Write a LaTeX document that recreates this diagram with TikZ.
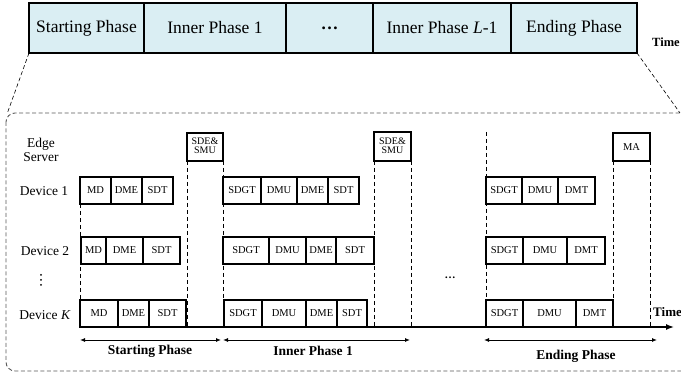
\documentclass[tikz,border=0pt]{standalone}
\usepackage{fontspec}
\setmainfont{Liberation Serif}
\usetikzlibrary{arrows.meta}
\definecolor{barfill}{RGB}{218,238,243}
\tikzset{
  cell/.style={draw=black,line width=1.3pt,fill=white,inner sep=0pt,outer sep=0pt,font=\fontsize{10.5}{11}\selectfont},
  phasecell/.style={draw=black,line width=1.8pt,fill=barfill,inner sep=0pt,outer sep=0pt,font=\fontsize{17.5}{19}\selectfont},
  vdash/.style={black,line width=0.8pt,dash pattern=on 4pt off 3pt},
  zoomdash/.style={black,line width=0.6pt,dash pattern=on 4pt off 2.5pt},
  lbl/.style={font=\fontsize{13.5}{15}\selectfont,align=center,inner sep=0pt},
  plbl/.style={font=\bfseries\fontsize{13.5}{15}\selectfont,inner sep=0pt},
  span/.style={line width=0.9pt,{Latex[length=5pt,width=4pt]}-{Latex[length=5pt,width=4pt]}}
}
\newcommand\cbox[6]{\node[cell,minimum width={(#3-#2)*1pt},minimum height={(#5-#4)*1pt}] (#1) at ({(#2+#3)/2},{(#4+#5)/2}) {#6};}
\newcommand\pbox[4]{\node[phasecell,minimum width={(#3-#2)*1pt},minimum height=50pt] (#1) at ({(#2+#3)/2},28) {#4};}
\begin{document}
\begin{tikzpicture}[x=1pt,y=-1pt]
\useasboundingbox (0,0) rectangle (681,379);
% top bar
\pbox{p1}{29}{144}{Starting Phase}
\pbox{p2}{144}{286}{Inner Phase 1}
\pbox{p3}{286}{373}{\textbf{\dots}}
\pbox{p4}{373}{511}{Inner Phase \textit{L}-1}
\pbox{p5}{511}{637}{Ending Phase}
\node[font=\bfseries\fontsize{12.5}{14}\selectfont,inner sep=0pt] (t1) at (666,42) {Time};
% zoom frame
\draw[gray!70!black,line width=0.9pt,dash pattern=on 4pt off 2.5pt,rounded corners=9pt] (6,113) rectangle (690,371);
\coordinate (zl) at (7,114);
\coordinate (zr) at (680,113);
\draw[zoomdash] (p1.south west) -- (zl);
\draw[zoomdash] (p5.south east) -- (zr);
% axis coordinates
\coordinate (ax0) at (80,327);
\coordinate (ax1) at (674,327);
\coordinate (et) at (486,132);
% server boxes
\cbox{se1}{187}{223}{133}{161}{\fontsize{10}{11}\selectfont\begin{tabular}{@{}c@{}}SDE\&\\[-2pt]SMU\end{tabular}}
\cbox{se2}{374}{411}{132}{161}{\fontsize{10}{11}\selectfont\begin{tabular}{@{}c@{}}SDE\&\\[-2pt]SMU\end{tabular}}
\cbox{ma}{613}{650}{133}{161}{MA}
% dashed verticals
\draw[vdash] (se1.south west) -- (se1.south west |- ax0);
\draw[vdash] (se1.south east) -- (se1.south east |- ax0);
\draw[vdash] (se2.south west) -- (se2.south west |- ax0);
\draw[vdash] (se2.south east) -- (se2.south east |- ax0);
\draw[vdash] (ma.south west) -- (ma.south west |- ax0);
\draw[vdash] (ma.south east) -- (ma.south east |- ax0);
\draw[vdash] (et) -- (et |- ax0);
\draw[vdash] (80,204) -- (ax0);
% starting phase
\cbox{a11}{80}{111}{177}{204}{MD}
\cbox{a12}{111}{142}{177}{204}{DME}
\cbox{a13}{142}{173}{177}{204}{SDT}
\cbox{a21}{81}{106}{237}{264}{MD}
\cbox{a22}{106}{143}{237}{264}{DME}
\cbox{a23}{143}{180}{237}{264}{SDT}
\cbox{a31}{80}{118}{300}{327}{MD}
\cbox{a32}{118}{149}{300}{327}{DME}
\cbox{a33}{149}{186}{300}{327}{SDT}
% inner phase 1
\cbox{b11}{223}{261}{177}{204}{SDGT}
\cbox{b12}{261}{297}{177}{204}{DMU}
\cbox{b13}{297}{328}{177}{204}{DME}
\cbox{b14}{328}{359}{177}{204}{SDT}
\cbox{b21}{223}{269}{237}{264}{SDGT}
\cbox{b22}{269}{306}{237}{264}{DMU}
\cbox{b23}{306}{336}{237}{264}{DME}
\cbox{b24}{336}{374}{237}{264}{SDT}
\cbox{b31}{224}{262}{300}{327}{SDGT}
\cbox{b32}{262}{306}{300}{327}{DMU}
\cbox{b33}{306}{337}{300}{327}{DME}
\cbox{b34}{337}{367}{300}{327}{SDT}
% ending phase
\cbox{c11}{486}{522}{177}{204}{SDGT}
\cbox{c12}{522}{558}{177}{204}{DMU}
\cbox{c13}{558}{595}{177}{204}{DMT}
\cbox{c21}{486}{523}{237}{264}{SDGT}
\cbox{c22}{523}{567}{237}{264}{DMU}
\cbox{c23}{567}{605}{237}{264}{DMT}
\cbox{c31}{486}{523}{300}{327}{SDGT}
\cbox{c32}{523}{576}{300}{327}{DMU}
\cbox{c33}{576}{613}{300}{327}{DMT}
% axis
\draw[line width=1.4pt,-{Latex[length=8pt,width=6pt]}] (ax0) -- (ax1);
\node[font=\bfseries\fontsize{13}{14}\selectfont,anchor=west,inner sep=0pt] (t2) at (653,312) {Time};
% row labels
\node[lbl] (es) at (41,150) {Edge\\[-1pt]Server};
\node[lbl] (dv1) at (44,191) {Device 1};
\node[lbl] (dv2) at (45,251) {Device 2};
\fill (41,275) circle (1pt) (41,280) circle (1pt) (41,285) circle (1pt);
\node[lbl] (dvk) at (45,315) {Device \textit{K}};
\node[font=\bfseries\fontsize{11}{12}\selectfont,inner sep=0pt] (mid) at (450,278) {\dots};
% phase spans
\coordinate (s0) at (80,340);
\coordinate (s1) at (221,340);
\coordinate (s2) at (223,340);
\coordinate (s3) at (410,340);
\coordinate (s4) at (484,340);
\coordinate (s5) at (657,340);
\draw[span] (s0) -- (s1);
\draw[span] (s2) -- (s3);
\draw[span] (s4) -- (s5);
\node[plbl] (ls) at (150,351) {Starting Phase};
\node[plbl] (li) at (313,351) {Inner Phase 1};
\node[plbl] (le) at (576,356) {Ending Phase};
\end{tikzpicture}
\end{document}
